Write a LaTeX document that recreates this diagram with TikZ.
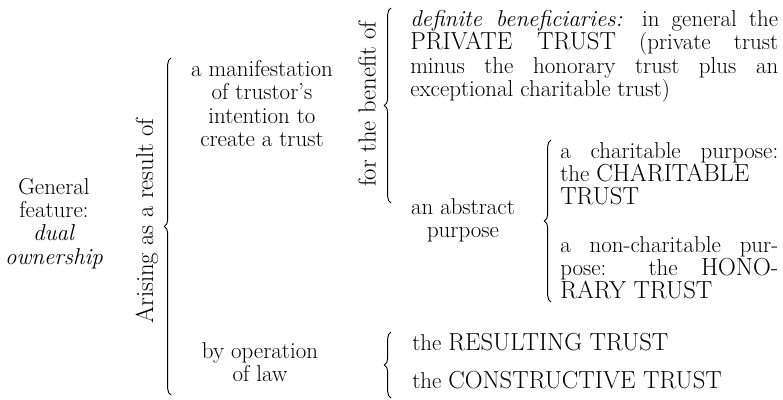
\documentclass[tikz,border=0pt]{standalone}
\usetikzlibrary{decorations.pathreplacing}
\tolerance=9999
\hyphenpenalty=10000
\newcommand{\tcaps}[1]{{\fontsize{18.5}{17.5}\selectfont #1}}

\begin{document}
\begin{tikzpicture}[x=0.75pt, y=-0.75pt]
    \tikzset{
        txt/.style={inner sep=0pt, font=\fontsize{17.2}{17.5}\selectfont},
        mid/.style={txt, anchor=north, align=center},
        para/.style={txt, anchor=north west, align=justify},
        side/.style={txt, font=\fontsize{18.5}{20}\selectfont, rotate=90},
        brace/.style={decorate, decoration={brace, amplitude=5pt}, line width=0.7pt}
    }

    \useasboundingbox (0,0) rectangle (783,400);

    \draw node[mid] (feat) at (54,178) {General\\feature:\\\textit{dual}\\\textit{ownership}};
    \draw node[side] (arise) at (147,221) {Arising as a result of};
    \draw node[mid] (manif) at (262,60) {a manifestation\\of trustor's\\intention to\\create a trust};
    \draw node[mid] (law) at (260,342) {by operation\\of law};
    \draw node[side] (benefit) at (367,104) {for the benefit of};
    \draw node[para, text width=276pt] (definite) at (410,10)
        {\textit{definite beneficiaries:} in general the\linebreak \tcaps{PRIVATE TRUST} (private trust\linebreak minus the honorary trust plus an\linebreak exceptional charitable trust)};
    \draw node[mid] (abstr) at (463,198) {an abstract\\purpose};
    \draw node[para, text width=163.5pt] (charit) at (560,142)
        {a charitable purpose:\linebreak the \tcaps{CHARITABLE}\newline \tcaps{TRUST}};
    \draw node[para, text width=163.5pt] (honor) at (560,236)
        {a non-charitable pur-\linebreak pose: the \tcaps{HONO-}\linebreak \tcaps{RARY TRUST}};
    \draw node[para] (result) at (412,333) {the \tcaps{RESULTING TRUST}};
    \draw node[para] (construct) at (412,371) {the \tcaps{CONSTRUCTIVE TRUST}};

    \coordinate (arisebot) at (171,395);
    \coordinate (arisetop) at (171,58);
    \coordinate (benefitbot) at (391,203);
    \coordinate (benefittop) at (391,8);
    \coordinate (abstrbot) at (551,302);
    \coordinate (abstrtop) at (551,140);
    \coordinate (lawbot) at (391,398);
    \coordinate (lawtop) at (391,332);

    \foreach \x/\y in {%
        arisebot/arisetop,benefitbot/benefittop,abstrbot/abstrtop,lawbot/lawtop%
    }{
        \draw (\x) edge[brace] (\y);
    }
\end{tikzpicture}
\end{document}
